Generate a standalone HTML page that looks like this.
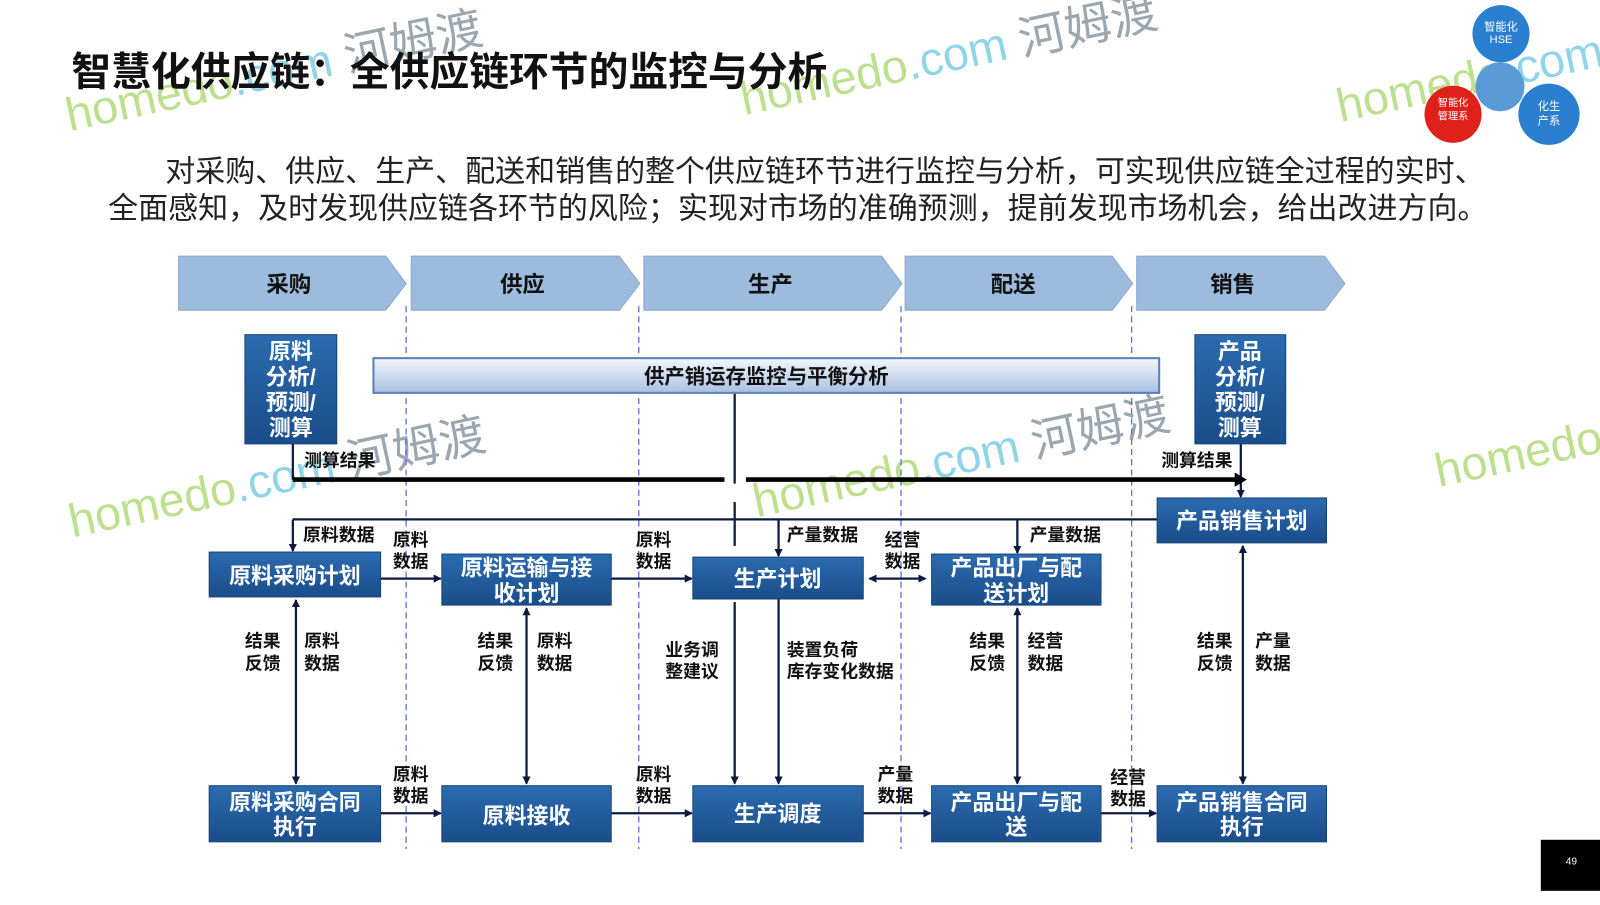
<!DOCTYPE html>
<html><head><meta charset="utf-8"><style>
body{margin:0;width:1600px;height:900px;overflow:hidden;background:#fff;font-family:"Liberation Sans","Noto Sans CJK SC",sans-serif;}
svg text{font-family:"Liberation Sans","Noto Sans CJK SC",sans-serif;}
</style></head><body>
<svg width="1600" height="900" viewBox="0 0 1600 900" xmlns="http://www.w3.org/2000/svg">
<defs>
<linearGradient id="bx" x1="0" y1="0" x2="0" y2="1"><stop offset="0" stop-color="#2c6bb0"/><stop offset="1" stop-color="#1a4d8a"/></linearGradient>
<linearGradient id="bar" x1="0" y1="0" x2="0" y2="1"><stop offset="0" stop-color="#f4f7fc"/><stop offset="1" stop-color="#a9c0e2"/></linearGradient>
<marker id="a" markerWidth="8" markerHeight="8" refX="7" refY="4" orient="auto" markerUnits="userSpaceOnUse"><path d="M0,0L8,4L0,8z" fill="#0d1a40"/></marker>
<marker id="s" markerWidth="8" markerHeight="8" refX="1" refY="4" orient="auto" markerUnits="userSpaceOnUse"><path d="M8,0L0,4L8,8z" fill="#0d1a40"/></marker>
</defs>
<g transform="scale(1.0204)">
<!-- watermarks -->
<g font-size="46" opacity="0.75" transform="rotate(-12)">
<text x="40" y="140" fill="#a8d66a">homedo<tspan fill="#6cc6e0">.com</tspan><tspan fill="#7a8a96"> 河姆渡</tspan></text>
<text x="690" y="262" fill="#a8d66a">homedo<tspan fill="#6cc6e0">.com</tspan><tspan fill="#7a8a96"> 河姆渡</tspan></text>
<text x="-40" y="530" fill="#a8d66a">homedo<tspan fill="#6cc6e0">.com</tspan><tspan fill="#7a8a96"> 河姆渡</tspan></text>
<text x="620" y="650" fill="#a8d66a">homedo<tspan fill="#6cc6e0">.com</tspan><tspan fill="#7a8a96"> 河姆渡</tspan></text>
<text x="1280" y="760" fill="#a8d66a">homedo<tspan fill="#6cc6e0">.com</tspan></text>
<text x="1260" y="390" fill="#a8d66a">homedo<tspan fill="#6cc6e0">.com</tspan></text>
</g>
<!-- logo circles -->
<circle cx="1471" cy="33" r="28" fill="#2a7fd0"/><text x="1471" y="30" font-size="11" fill="#fff" text-anchor="middle">智能化</text><text x="1471" y="42" font-size="11" fill="#fff" text-anchor="middle">HSE</text>
<circle cx="1470" cy="85" r="24" fill="#5b9ad8"/>
<circle cx="1424" cy="112" r="28" fill="#e0201a"/><text x="1424" y="104" font-size="10" fill="#fff" text-anchor="middle">智能化</text><text x="1424" y="117" font-size="10" fill="#fff" text-anchor="middle">管理系</text>
<circle cx="1518" cy="112" r="30" fill="#2a7fd0"/><text x="1518" y="108" font-size="11" fill="#fff" text-anchor="middle">化生</text><text x="1518" y="122" font-size="11" fill="#fff" text-anchor="middle">产系</text>
<rect x="1510" y="823" width="60" height="50" fill="#000"/><text x="1540" y="847" font-size="10" fill="#fff" text-anchor="middle">49</text>
<!-- title -->
<text x="70" y="84" font-size="39" font-weight="bold" fill="#111">智慧化供应链：全供应链环节的监控与分析</text>
<text x="162" y="178" font-size="29.4" fill="#222">对采购、供应、生产、配送和销售的整个供应链环节进行监控与分析，可实现供应链全过程的实时、</text>
<text x="106" y="214" font-size="29.4" fill="#222">全面感知，及时发现供应链各环节的风险；实现对市场的准确预测，提前发现市场机会，给出改进方向。</text>
<!-- chevrons -->
<g fill="#9dbbdd" stroke="#8aa9cf">
<path d="M175,251H378L398,278L378,304H175z"/>
<path d="M403,251H607L627,278L607,304H403z"/>
<path d="M631,251H864L884,278L864,304H631z"/>
<path d="M887,251H1090L1110,278L1090,304H887z"/>
<path d="M1114,251H1298L1318,278L1298,304H1114z"/>
</g>
<g font-size="22" font-weight="bold" fill="#111" text-anchor="middle">
<text x="283" y="286">采购</text><text x="512" y="286">供应</text><text x="755" y="286">生产</text><text x="993" y="286">配送</text><text x="1208" y="286">销售</text>
</g>
<!-- dashed -->
<g stroke="#6470d8" stroke-dasharray="6,4" stroke-width="1.3">
<line x1="398" y1="300" x2="398" y2="832"/><line x1="626" y1="300" x2="626" y2="832"/><line x1="883" y1="300" x2="883" y2="832"/><line x1="1109" y1="300" x2="1109" y2="832"/>
</g>
<!-- bar -->
<rect x="366" y="351" width="770" height="34" fill="url(#bar)" stroke="#5b7fb8" stroke-width="2"/>
<text x="751" y="376" font-size="20" fill="#111" text-anchor="middle" font-weight="bold">供产销运存监控与平衡分析</text>
<!-- lines -->
<g stroke="#0d1a40" stroke-width="2.2" fill="none">
<line x1="720" y1="386" x2="720" y2="474"/>
<line x1="720" y1="590" x2="720" y2="768" marker-end="url(#a)"/>
<line x1="720" y1="492" x2="720" y2="535"/>
<line x1="287" y1="435" x2="287" y2="470"/>
<line x1="287" y1="509" x2="1134" y2="509"/>
<line x1="287" y1="509" x2="287" y2="540" marker-end="url(#a)"/>
<line x1="763" y1="509" x2="763" y2="545" marker-end="url(#a)"/>
<line x1="997" y1="509" x2="997" y2="542" marker-end="url(#a)"/>
<line x1="1216" y1="435" x2="1216" y2="487" marker-end="url(#a)"/>
<line x1="373" y1="567" x2="432" y2="567" marker-end="url(#a)"/>
<line x1="599" y1="567" x2="678" y2="567" marker-end="url(#a)"/>
<line x1="852" y1="567" x2="907" y2="567" marker-start="url(#s)" marker-end="url(#a)"/>
<line x1="290" y1="588" x2="290" y2="768" marker-start="url(#s)" marker-end="url(#a)"/>
<line x1="516" y1="596" x2="516" y2="768" marker-start="url(#s)" marker-end="url(#a)"/>
<line x1="997" y1="596" x2="997" y2="768" marker-start="url(#s)" marker-end="url(#a)"/>
<line x1="1218" y1="535" x2="1218" y2="768" marker-start="url(#s)" marker-end="url(#a)"/>
<line x1="763" y1="587" x2="763" y2="768" marker-end="url(#a)"/>
<line x1="373" y1="797" x2="432" y2="797" marker-end="url(#a)"/>
<line x1="599" y1="797" x2="678" y2="797" marker-end="url(#a)"/>
<line x1="846" y1="797" x2="912" y2="797" marker-end="url(#a)"/>
<line x1="1079" y1="797" x2="1133" y2="797" marker-end="url(#a)"/>
</g>
<g stroke="#000" stroke-width="4.5"><line x1="287" y1="470" x2="710" y2="470"/><line x1="731" y1="470" x2="1212" y2="470"/></g>
<path d="M1210,463L1222,470L1210,477z" fill="#000"/>
<!-- boxes -->
<g fill="url(#bx)" stroke="#174378">
<rect x="240" y="328" width="90" height="107"/><rect x="1171" y="328" width="89" height="107"/>
<rect x="205" y="541" width="168" height="44"/><rect x="433" y="543" width="166" height="50"/>
<rect x="679" y="546" width="167" height="41"/><rect x="913" y="543" width="166" height="50"/>
<rect x="1134" y="488" width="166" height="44"/>
<rect x="205" y="770" width="168" height="55"/><rect x="433" y="770" width="166" height="55"/>
<rect x="679" y="770" width="167" height="55"/><rect x="913" y="770" width="166" height="55"/>
<rect x="1134" y="770" width="166" height="55"/>
</g>
<g font-size="21.5" font-weight="bold" fill="#fff" text-anchor="middle">
<text x="285" y="352">原料</text><text x="285" y="377">分析/</text><text x="285" y="402">预测/</text><text x="285" y="427">测算</text>
<text x="1215" y="352">产品</text><text x="1215" y="377">分析/</text><text x="1215" y="402">预测/</text><text x="1215" y="427">测算</text>
<text x="289" y="572">原料采购计划</text>
<text x="516" y="564">原料运输与接</text><text x="516" y="589">收计划</text>
<text x="762" y="575">生产计划</text>
<text x="996" y="564">产品出厂与配</text><text x="996" y="589">送计划</text>
<text x="1217" y="518">产品销售计划</text>
<text x="289" y="794">原料采购合同</text><text x="289" y="818">执行</text>
<text x="516" y="807">原料接收</text>
<text x="762" y="805">生产调度</text>
<text x="996" y="794">产品出厂与配</text><text x="996" y="818">送</text>
<text x="1217" y="794">产品销售合同</text><text x="1217" y="818">执行</text>
</g>
<g font-size="17.5" fill="#111" font-weight="bold">
<text x="298" y="457">测算结果</text><text x="1138" y="457">测算结果</text>
<text x="297" y="530">原料数据</text><text x="385" y="535">原料</text><text x="385" y="556">数据</text>
<text x="623" y="535">原料</text><text x="623" y="556">数据</text>
<text x="771" y="530">产量数据</text><text x="867" y="535">经营</text><text x="867" y="556">数据</text>
<text x="1009" y="530">产量数据</text>
<text x="240" y="634">结果</text><text x="240" y="656">反馈</text><text x="298" y="634">原料</text><text x="298" y="656">数据</text>
<text x="468" y="634">结果</text><text x="468" y="656">反馈</text><text x="526" y="634">原料</text><text x="526" y="656">数据</text>
<text x="652" y="643">业务调</text><text x="652" y="664">整建议</text>
<text x="771" y="643">装置负荷</text><text x="771" y="664">库存变化数据</text>
<text x="950" y="634">结果</text><text x="950" y="656">反馈</text><text x="1007" y="634">经营</text><text x="1007" y="656">数据</text>
<text x="1173" y="634">结果</text><text x="1173" y="656">反馈</text><text x="1230" y="634">产量</text><text x="1230" y="656">数据</text>
<text x="385" y="765">原料</text><text x="385" y="786">数据</text>
<text x="623" y="765">原料</text><text x="623" y="786">数据</text>
<text x="860" y="765">产量</text><text x="860" y="786">数据</text>
<text x="1088" y="768">经营</text><text x="1088" y="789">数据</text>
</g>
</g>
</svg>
</body></html>
